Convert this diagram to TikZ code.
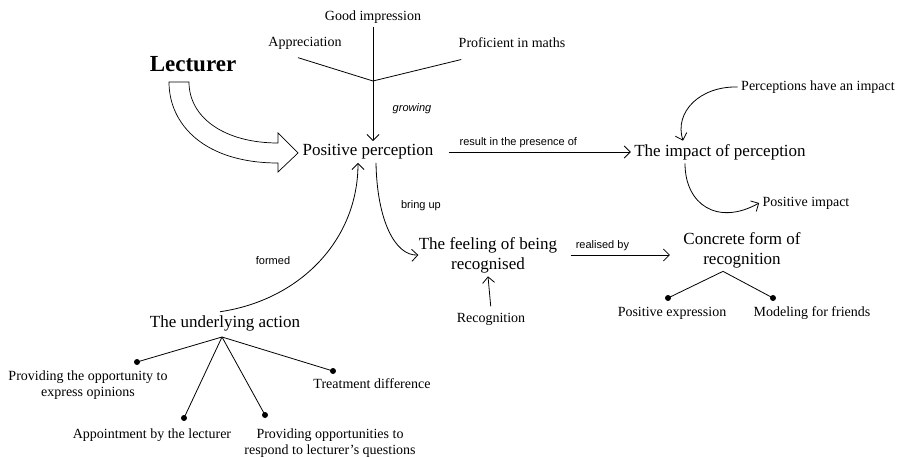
\documentclass[tikz,border=0pt]{standalone}
\usepackage{fontspec}
\setmainfont{Liberation Serif}
\setsansfont{Liberation Sans}
\usetikzlibrary{arrows.meta,positioning}

\tikzset{
  concept/.style={font=\fontsize{17}{20}\selectfont, align=center},
  leaf/.style={font=\fontsize{14}{16}\selectfont, align=center},
  linklabel/.style={font=\sffamily\fontsize{11}{13}\selectfont},
  link/.style={-{Straight Barb[length=6pt,width=12pt]}, line width=0.8pt},
  branch/.style={line width=0.8pt},
  dot/.style={circle, fill=black, inner sep=0pt, minimum size=6pt},
}

\begin{document}
\begin{tikzpicture}[x=1pt, y=-1pt]
    \useasboundingbox (0,0) rectangle (899,457);

    % main concepts
    \node[font=\bfseries\fontsize{23}{26}\selectfont] (lect) at (193,64) {Lecturer};
    \node[concept] (pp) at (368,152) {Positive perception};
    \node[concept] (impact) at (720,152) {The impact of perception};
    \node[concept] (feel) at (488,255) {The feeling of being\\recognised};
    \node[concept] (form) at (742,250) {Concrete form of\\recognition};
    \node[concept] (action) at (225,323) {The underlying action};

    % leaves
    \node[leaf] (good) at (373,17) {Good impression};
    \node[leaf] (appr) at (305,43) {Appreciation};
    \node[leaf] (prof) at (512,43) {Proficient in maths};
    \node[leaf] (have) at (818,87) {Perceptions have an impact};
    \node[leaf] (posimp) at (806,203) {Positive impact};
    \node[leaf] (recog) at (491,319) {Recognition};
    \node[leaf] (posexp) at (672,313) {Positive expression};
    \node[leaf] (model) at (812,313) {Modeling for friends};
    \node[leaf] (opin) at (88,385) {Providing the opportunity to\\express opinions};
    \node[leaf] (treat) at (372,384) {Treatment difference};
    \node[leaf] (appoint) at (152,435) {Appointment by the lecturer};
    \node[leaf] (respond) at (330,443) {Providing opportunities to\\respond to lecturer's questions};

    % dots
    \node[dot] (dexp) at (668,298) {};
    \node[dot] (dmod) at (773,298) {};
    \node[dot] (dopin) at (137,362) {};
    \node[dot] (dtreat) at (333,371) {};
    \node[dot] (dappoint) at (184,418) {};
    \node[dot] (drespond) at (265,415) {};

    % junctions
    \coordinate (jtop) at (good.south |- 0,81);
    \coordinate (jform) at ([xshift=-19pt]form.south);
    \coordinate (jact) at (222,337);

    % hollow arrow from the lecturer
    \draw[line width=0.7pt, fill=white]
      (169,82) -- (189,82) .. controls (189,118) and (225,143) .. (278,143)
      -- (278,133) -- (298,153) -- (278,172) -- (278,163)
      .. controls (205,163) and (169,125) .. (169,82) -- cycle;

    % top branches
    \draw[branch] ([shift={(-7,5)}]appr.south) -- (jtop);
    \draw[branch] (jtop) -- ([shift={(6,8)}]prof.south west);
    \draw[link] (good.south) -- (good.south |- pp.north)
      node[linklabel, font=\sffamily\itshape\fontsize{11}{13}\selectfont, pos=0.72, right=16pt] {growing};

    % links between concepts
    \draw[link, shorten <=12pt] (pp.east) -- (impact.west)
      node[linklabel, above, pos=0.42] {result in the presence of};
    \draw[link] (have.west) .. controls (700,86) and (674,112) .. ([xshift=-37pt]impact.north);
    \draw[link] ([xshift=-35pt]impact.south) .. controls (685,205) and (718,226) .. (posimp.west);
    \draw[link] ([xshift=8pt]pp.south) .. controls (377,220) and (395,256) .. ([xshift=3pt]feel.west);
    \node[linklabel] (bring) at (421,206) {bring up};
    \draw[link, shorten <=10pt, shorten >=10pt] (feel.east) -- (feel.east -| form.west)
      node[linklabel, above, pos=0.35] {realised by};
    \draw[link, shorten <=3pt] (recog.north) -- (feel.south);
    \draw[link] ([xshift=-5pt]action.north) .. controls (300,300) and (358,240) .. ([xshift=-10pt]pp.south);
    \node[linklabel] (formed) at (273,261) {formed};

    % bottom branches
    \draw[branch] (jform) -- (dexp.center);
    \draw[branch] (jform) -- (dmod.center);
    \draw[branch] (jact) -- (dopin.center);
    \draw[branch] (jact) -- (dtreat.center);
    \draw[branch] (jact) -- (dappoint.center);
    \draw[branch] (jact) -- (drespond.center);
\end{tikzpicture}
\end{document}
